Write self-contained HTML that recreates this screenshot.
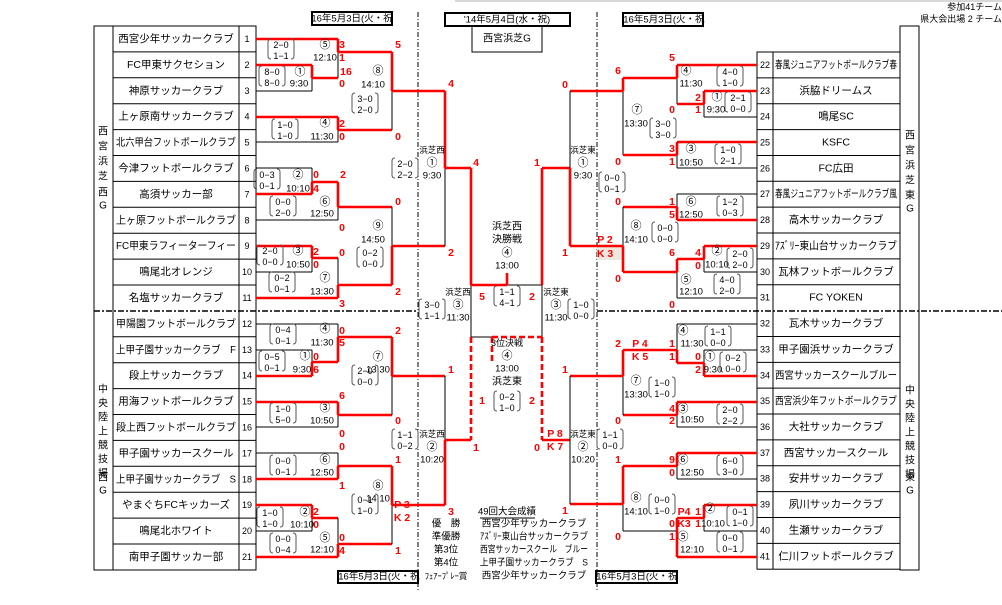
<!DOCTYPE html>
<html><head><meta charset="utf-8">
<style>
html,body{margin:0;padding:0;background:#fff;}
svg{display:block;font-family:"Liberation Sans","Noto Sans CJK JP",sans-serif;}
</style></head>
<body>
<svg id="s" width="1002" height="605" viewBox="0 0 1002 605" xmlns="http://www.w3.org/2000/svg">
<line x1="455" y1="1" x2="1002" y2="1" stroke="#ccc" stroke-width="1.5"/>
</svg>
<script>
const S=document.getElementById('s');const NS='http://www.w3.org/2000/svg';
function el(t,a,txt){const e=document.createElementNS(NS,t);for(const k in a)e.setAttribute(k,a[k]);if(txt!==undefined)e.textContent=txt;S.appendChild(e);return e;}
function L(x1,y1,x2,y2,c,dash){const a={x1,y1,x2,y2,stroke:c?'#f00':'#000','stroke-width':c?2.6:1};if(dash)a['stroke-dasharray']=dash;el('line',a);}
function T(x,y,s,o){o=o||{};const a={x,y,'font-size':o.fs||9.5,'text-anchor':o.a||'middle','dominant-baseline':'central',fill:o.c||'#000'};if(o.b)a['font-weight']='bold';const e=el('text',a,s);if(o.max){const w=e.getComputedTextLength();if(w>o.max){e.setAttribute('textLength',o.max);e.setAttribute('lengthAdjust','spacingAndGlyphs');}}return e;}
function R(x,y,s){T(x,y,s,{c:'#f00',b:1,fs:10.5});}
function SC(x,y,a,b){T(x,y,a,{fs:9});T(x,y+11,b,{fs:9});
 el('path',{d:`M${x-10} ${y-6} q-3 0 -3 3 v14 q0 3 3 3`,fill:'none',stroke:'#555','stroke-width':1});
 el('path',{d:`M${x+10} ${y-6} q3 0 3 3 v14 q0 3 -3 3`,fill:'none',stroke:'#555','stroke-width':1});}
function box(x,y,w,h,bw){el('rect',{x,y,width:w,height:h,fill:'none',stroke:'#000','stroke-width':bw||1});}

// tables
const rh=25.9;
box(94,26,162,544);L(113,26,113,570);L(239,26,239,570);
const left=['西宮少年サッカークラブ','FC甲東サクセション','神原サッカークラブ','上ヶ原南サッカークラブ','北六甲台フットボールクラブ','今津フットボールクラブ','高須サッカー部','上ヶ原フットボールクラブ','FC甲東ラフィーターフィー','鳴尾北オレンジ','名塩サッカークラブ','甲陽園フットボールクラブ','上甲子園サッカークラブ　F','段上サッカークラブ','用海フットボールクラブ','段上西フットボールクラブ','甲子園サッカースクール','上甲子園サッカークラブ　S','やまぐちFCキッカーズ','鳴尾北ホワイト','南甲子園サッカー部'];
left.forEach((n,i)=>{const y=26+(i+0.5)*rh;if(i>0&&i!=11)L(113,26+i*rh,256,26+i*rh);T(176,y,n,{fs:10.5,max:120});T(247,y,String(i+1),{fs:9});});
const rr=25.86;
box(900,26,19,544);box(757,52,143,517.2);L(773,52,773,569);
const right=['春風ジュニアフットボールクラブ春','浜脇ドリームス','鳴尾SC','KSFC','FC広田','春風ジュニアフットボールクラブ風','高木サッカークラブ','ｱｽﾞﾘｰ東山台サッカークラブ','瓦林フットボールクラブ','FC YOKEN','瓦木サッカークラブ','甲子園浜サッカークラブ','西宮サッカースクールブルー','西宮浜少年フットボールクラブ','大社サッカークラブ','西宮サッカースクール','安井サッカークラブ','夙川サッカークラブ','生瀬サッカークラブ','仁川フットボールクラブ'];
right.forEach((n,i)=>{const y=52+(i+0.5)*rr;if(i>0&&i!=10)L(757,52+i*rr,900,52+i*rr);T(836,y,n,{fs:10.5,max:122});T(765,y,String(i+22),{fs:9});});
// dashed separators
L(94,311,418,311,0,'6 2 2 2');L(597,311,1002,311,0,'6 2 2 2');
el('line',{x1:94,y1:311,x2:418,y2:311,stroke:'#000','stroke-width':1.6,'stroke-dasharray':'6 2 2 2'});
el('line',{x1:597,y1:311,x2:1002,y2:311,stroke:'#000','stroke-width':1.6,'stroke-dasharray':'6 2 2 2'});
L(418,12,418,590,0,'5 2 1 2');L(597,12,597,590,0,'5 2 1 2');
// side labels
'西宮浜芝'.split('').forEach((c,i)=>T(103,132+i*15,c,{fs:10}));T(103,193,'西',{fs:10});T(103,206,'G',{fs:10});
'中央陸上競技場'.split('').forEach((c,i)=>T(103,390+i*14,c,{fs:10}));T(103,478,'西',{fs:10});T(103,491,'G',{fs:10});
'西宮浜芝'.split('').forEach((c,i)=>T(910,136+i*15,c,{fs:10}));T(910,196,'東',{fs:10});T(910,209,'G',{fs:10});
'中央陸上競技場'.split('').forEach((c,i)=>T(910,391+i*14,c,{fs:10}));T(910,478,'東',{fs:10});T(910,491,'G',{fs:10});
// header boxes
box(312,12,80,13,2);T(352,19,'16年5月3日(火・祝',{fs:9.5});
box(445,13,125,13,2);T(507,20,'\'14年5月4日(水・祝)',{fs:9.5});
box(472,26,70,26);T(507,39,'西宮浜芝G',{fs:10});
box(623,13,80,13,2);T(663,20,'\'16年5月3日(火・祝',{fs:9.5});
box(338,571,80,12,2);T(378,577,'\'16年5月3日(火・祝',{fs:9.5});
box(596,571,81,12,2);T(636,577,'\'16年5月3日(火・祝',{fs:9.5});
T(1002,7,'参加41チーム',{fs:9,a:'end'});T(1002,19,'県大会出場  2 チーム',{fs:9,a:'end'});
el('rect',{x:597,y:247,width:26,height:13,fill:'#ece8e0'});

// brackets: [x1,y1,x2,y2,red]
const Ls=[
// left top
[256,39,338,39,1],[256,65,312,65,1],[256,91,312,91,0],[256,117,338,117,1],[256,142,338,142,0],
[256,168,312,168,0],[256,194,312,194,1],[256,220,338,220,0],[256,246,312,246,1],[256,272,312,272,0],[256,298,338,298,1],
[312,78,312,91,0],[312,65,312,78,1],[312,78,338,78,1],
[338,52,338,78,0],[338,39,338,52,1],[338,52,392,52,1],
[338,130,338,142,0],[338,117,338,130,1],[338,130,392,130,1],
[392,91,392,130,0],[392,52,392,91,1],[392,91,445,91,1],
[312,168,312,182,0],[312,182,312,194,1],[312,182,338,182,1],
[338,207,338,220,0],[338,182,338,207,1],[338,207,392,207,1],
[312,258,312,272,0],[312,246,312,258,1],[312,258,338,258,1],
[338,258,338,285,0],[338,285,338,298,1],[338,285,392,285,1],
[392,207,392,246,0],[392,246,392,285,1],[392,246,445,246,1],
[445,168,445,246,0],[445,91,445,168,1],[445,168,471,168,1],
// final
[471,285,471,337,0],[542,285,542,337,0],[471,337,492,337,0],[507,285,542,285,0],
[471,168,471,285,1],[471,285,507,285,1],[507,273,507,285,1],[542,168,542,285,1],[542,168,570,168,1],
// left bottom
[256,324,338,324,0],[256,350,312,350,0],[256,376,312,376,1],
[312,350,312,362,0],[312,362,312,376,1],[312,362,338,362,1],
[338,324,338,337,0],[338,337,338,362,1],[338,337,392,337,1],
[256,402,338,402,1],[256,427,338,427,0],[338,415,338,427,0],[338,402,338,415,1],[338,415,392,415,1],
[392,376,392,415,0],[392,337,392,376,1],[392,376,445,376,1],
[256,453,338,453,0],[256,479,338,479,1],[338,453,338,466,0],[338,466,338,479,1],[338,466,392,466,1],
[256,505,312,505,1],[256,531,312,531,0],[312,518,312,531,0],[312,505,312,518,1],[312,518,338,518,1],
[256,557,338,557,1],[338,518,338,544,0],[338,544,338,557,1],[338,544,392,544,1],
[392,505,392,544,0],[392,466,392,505,1],[392,505,445,505,1],
[445,376,445,440,0],[445,440,445,505,1],[445,440,471,440,1],
[542,440,570,440,1],
// right top
[757,65,677,65,1],[677,78,677,104,0],[677,65,677,78,1],[623,78,677,78,1],
[757,91,704,91,1],[757,117,704,117,0],[704,104,704,117,0],[704,91,704,104,1],[677,104,704,104,1],
[623,91,623,155,0],[623,78,623,91,1],[570,91,623,91,1],
[757,142,677,142,1],[757,168,677,168,0],[677,155,677,168,0],[677,142,677,155,1],[623,155,677,155,1],
[757,194,677,194,0],[757,220,677,220,1],[677,194,677,207,0],[677,207,677,220,1],[623,207,677,207,1],
[757,246,704,246,1],[757,272,704,272,0],[704,259,704,272,0],[704,246,704,259,1],[677,259,704,259,1],
[757,298,677,298,0],[677,272,677,298,0],[677,259,677,272,1],[623,272,677,272,1],
[623,207,623,246,0],[623,246,623,272,1],[570,246,623,246,1],
[570,91,570,168,0],[570,168,570,246,1],
// right bottom
[757,324,677,324,0],[757,350,704,350,0],[757,376,704,376,1],[704,350,704,363,0],[704,363,704,376,1],[677,363,704,363,1],
[677,324,677,350,0],[677,350,677,363,1],[623,350,677,350,1],
[757,402,677,402,1],[757,427,677,427,0],[677,415,677,427,0],[677,402,677,415,1],[623,415,677,415,1],
[623,376,623,415,0],[623,350,623,376,1],[570,376,623,376,1],
[757,453,677,453,1],[757,479,677,479,0],[677,466,677,479,0],[677,453,677,466,1],[623,466,677,466,1],
[757,505,704,505,1],[757,531,704,531,0],[704,518,704,531,0],[704,505,704,518,1],[677,518,704,518,1],
[757,557,677,557,1],[623,531,677,531,0],[677,518,677,557,1],
[623,504,623,531,0],[623,466,623,504,1],[570,504,623,504,1],
[570,376,570,504,0]
];
Ls.forEach(a=>L(a[0],a[1],a[2],a[3],a[4]));
// 3rd place dashed
['492,337,542,337','492,337,492,363','471,337,471,440','542,337,542,440'].forEach(s=>{const a=s.split(',').map(Number);el('line',{x1:a[0],y1:a[1],x2:a[2],y2:a[3],stroke:'#f00','stroke-width':2.6,'stroke-dasharray':'6 3'});});

// ---- labels left top
T(325,45,'⑤',{fs:11});T(325,58,'12:10');SC(281,45,'2−0','1−1');R(342,45,'3');R(342,58,'1');R(398,45,'5');
T(300,72,'①',{fs:11});T(299,84,'9:30');SC(272,72,'8−0','8−0');R(346,72,'16');R(342,84,'0');
T(378,71,'⑧',{fs:11});T(373,85,'14:10');SC(365,99,'3−0','2−0');R(398,137,'0');R(451,84,'4');
T(325,123,'④',{fs:11});T(322,137,'11:30');SC(285,125,'1−0','1−0');R(342,124,'2');R(342,137,'0');
T(298,175,'②',{fs:11});T(298,189,'10:10');SC(267,175,'0−3','0−1');R(316,175,'0');R(316,189,'4');R(343,175,'2');
T(325,202,'⑥',{fs:11});T(322,214,'12:50');SC(283,202,'0−0','2−0');R(398,202,'0');R(342,228,'0');
T(378,226,'⑨',{fs:11});T(373,240,'14:50');SC(370,253,'0−2','0−0');R(342,253,'0');R(398,292,'2');R(451,253,'2');
T(298,251,'③',{fs:11});T(298,265,'10:50');SC(270,251,'2−0','0−0');R(316,252,'2');R(316,265,'0');
T(325,278,'⑦',{fs:11});T(322,292,'13:30');SC(282,278,'0−2','0−1');R(342,304,'3');
T(432,150,'浜芝西',{fs:8.5});T(432,163,'①',{fs:11});T(432,176,'9:30');SC(405,164,'2−0','2−2');
T(458,292,'浜芝西',{fs:8.5});T(458,305,'③',{fs:11});T(458,318,'11:30');SC(432,305,'3−0','1−1');
// final
T(507,227,'浜芝西',{fs:10});T(507,240,'決勝戦',{fs:10});T(507,253,'④',{fs:11});T(507,266,'13:00');
R(482,297,'5');R(532,297,'2');SC(507,292,'1−1','4−1');R(476,163,'4');R(537,163,'1');R(565,253,'1');R(565,85,'0');
T(583,150,'浜芝東',{fs:8.5});T(583,163,'①',{fs:11});T(583,176,'9:30');SC(612,178,'0−0','0−1');
T(556,292,'浜芝東',{fs:8.5});T(556,305,'③',{fs:11});T(556,318,'11:30');SC(581,305,'1−0','0−0');
// right top
R(672,58,'5');R(618,71,'6');T(686,71,'④',{fs:11});T(691,84,'11:30');SC(730,72,'4−0','1−0');
R(698,98,'2');T(717,97,'①',{fs:11});T(716,110,'9:30');SC(738,98,'2−1','0−0');R(672,110,'0');R(698,110,'1');
T(637,110,'⑦',{fs:11});T(636,124,'13:30');SC(663,124,'3−0','3−0');
R(672,149,'3');T(691,149,'③',{fs:11});T(691,163,'10:50');SC(728,150,'1−0','2−1');R(672,162,'1');R(618,162,'0');
R(618,202,'0');R(672,202,'1');T(691,202,'⑥',{fs:11});T(691,215,'12:50');SC(730,202,'1−2','0−3');R(672,215,'5');
T(636,226,'⑧',{fs:11});T(636,240,'14:10');SC(665,228,'0−0','0−0');R(605,240,'P 2');R(605,254,'K 3');
R(672,253,'6');R(698,253,'4');T(717,251,'②',{fs:11});T(717,265,'10:10');SC(740,254,'2−0','2−0');R(698,266,'0');
T(686,280,'⑤',{fs:11});T(691,292,'12:10');SC(727,280,'4−0','2−0');R(618,279,'0');R(672,305,'0');
// right bottom
T(683,331,'④',{fs:11});T(692,344,'11:30');SC(718,332,'1−1','0−0');R(618,344,'2');R(640,344,'P 4');R(672,344,'1');R(640,357,'K 5');R(672,357,'1');
R(698,357,'0');T(710,357,'①',{fs:11});T(713,370,'9:30');SC(733,358,'0−2','0−0');R(698,370,'2');R(565,370,'1');
T(636,381,'⑦',{fs:11});T(636,395,'13:30');SC(662,383,'1−0','1−0');
R(672,409,'4');T(683,409,'③',{fs:11});T(692,420,'10:50');SC(730,410,'2−0','2−2');R(618,421,'0');R(672,421,'2');
R(555,434,'P 8');R(555,447,'K 7');T(583,434,'浜芝東',{fs:8.5});T(583,447,'②',{fs:11});T(583,460,'10:20');SC(610,435,'1−1','0−0');
R(618,460,'1');R(672,460,'9');T(683,460,'⑥',{fs:11});T(692,473,'12:50');SC(730,461,'6−0','3−0');R(672,473,'0');
T(636,498,'⑧',{fs:11});T(636,512,'14:10');SC(662,500,'0−0','1−0');
R(684,512,'P4');R(698,512,'1');T(710,509,'②',{fs:11});T(713,524,'10:10');SC(740,512,'0−1','1−0');R(672,524,'0');R(684,524,'K3');R(698,524,'1');
R(565,511,'1');R(618,537,'0');R(672,537,'1');T(683,537,'⑤',{fs:11});T(692,550,'12:10');SC(730,538,'0−0','0−1');
// left bottom
T(325,329,'④',{fs:11});T(322,343,'11:30');SC(283,330,'0−4','0−1');R(342,331,'0');R(342,343,'5');R(398,331,'2');
T(305,356,'①',{fs:11});T(302,370,'9:30');SC(272,357,'0−5','0−1');R(316,357,'0');R(316,370,'6');
T(378,357,'⑦',{fs:11});T(378,370,'13:30');SC(365,371,'2−0','0−0');R(451,370,'1');
R(342,396,'6');T(325,408,'③',{fs:11});T(322,421,'10:50');SC(283,409,'1−0','5−0');R(398,421,'0');R(342,434,'0');
SC(405,435,'1−1','0−2');T(432,434,'浜芝西',{fs:8.5});T(432,447,'②',{fs:11});T(432,460,'10:20');
R(342,447,'0');R(398,460,'1');T(325,460,'⑥',{fs:11});T(322,473,'12:50');SC(283,461,'0−0','0−1');
R(342,486,'1');T(378,486,'⑧',{fs:11});T(378,499,'14:10');SC(365,500,'0−1','1−0');
R(402,505,'P 3');R(402,518,'K 2');R(451,512,'3');
T(305,512,'②',{fs:11});T(302,525,'10:10');SC(270,513,'1−0','1−0');R(316,512,'2');R(316,525,'0');
T(325,538,'⑤',{fs:11});T(322,550,'12:10');SC(283,539,'0−0','0−4');R(342,538,'0');R(342,551,'4');R(398,551,'1');
// 3rd place
T(507,343,'3位決戦',{fs:9});T(507,356,'④',{fs:11});T(507,369,'13:00');T(507,382,'浜芝東',{fs:10});SC(507,397,'0−2','1−0');
R(482,401,'1');R(532,401,'2');R(476,448,'1');R(537,448,'0');
// results
T(507,512,'49回大会成績',{fs:9.5});L(480,518,535,518);
const res=[['優　勝','西宮少年サッカークラブ'],['準優勝','ｱｽﾞﾘｰ東山台サッカークラブ'],['第3位','西宮サッカースクール　ブルー'],['第4位','上甲子園サッカークラブ　S'],['ﾌｪｱｰﾌﾟﾚｰ賞','西宮少年サッカークラブ']];
res.forEach((r,i)=>{const y=524+i*13;T(446,y,r[0],{fs:i==4?8.5:9.5});T(534,y,r[1],{fs:9.5,max:108});});
</script>
</body></html>
